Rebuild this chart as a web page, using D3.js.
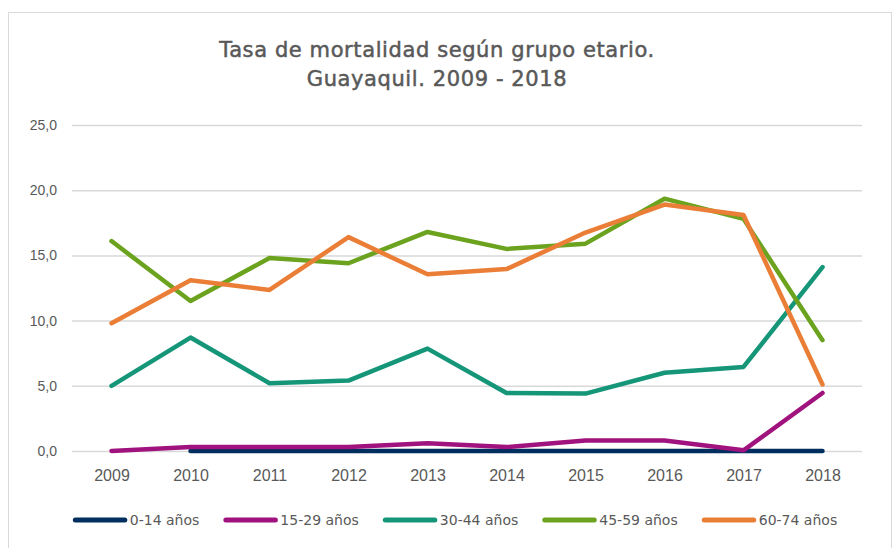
<!DOCTYPE html>
<html>
<head>
<meta charset="utf-8">
<script src="https://cdn.jsdelivr.net/npm/d3@7"></script>
<style>
  body { margin: 0; background: #fff; }
  svg { display: block; font-family: "DejaVu Sans", "Open Sans", sans-serif; }
</style>
</head>
<body>
<div id="chart"></div>
<script>
const years = ["2009", "2010", "2011", "2012", "2013", "2014", "2015", "2016", "2017", "2018"]
const groups = ["0-14 años", "15-29 años", "30-44 años", "45-59 años", "60-74 años"]
const colors = ["#002f5f", "#a0127e", "#169679", "#6ba31f", "#eb7e37"]

// tasas por grupo (null = sin dato)
const g0_14  = [null, 0.0, 0.0, 0.0, 0.0, 0.0, 0.0, 0.0, 0.0, 0.0]
const g15_29 = [0.0, 0.3, 0.3, 0.3, 0.6, 0.3, 0.8, 0.8, 0.05, 4.45]
const g30_44 = [5.0, 8.7, 5.2, 5.4, 7.85, 4.45, 4.4, 6.0, 6.45, 14.1]
const g45_59 = [16.1, 11.5, 14.8, 14.4, 16.8, 15.5, 15.9, 19.35, 17.8, 8.5]
const g60_74 = [9.8, 13.1, 12.35, 16.4, 13.55, 13.95, 16.75, 18.9, 18.1, 5.1]

const yTicks = [0, 5, 10, 15, 20, 25]

const series = [g0_14, g15_29, g30_44, g45_59, g60_74]

const width = 896
const height = 548

const svg = d3.select("#chart")
  .append("svg")
  .attr("width", width)
  .attr("height", height)

// marco del gráfico
svg.append("rect")
  .attr("x", 8.5).attr("y", 12.5)
  .attr("width", 883).attr("height", 560)
  .attr("fill", "#fff")
  .attr("stroke", "#d9d9d9")

svg.append("text")
  .attr("x", 437).attr("y", 57)
  .attr("text-anchor", "middle")
  .attr("font-size", 21).attr("letter-spacing", 0.6)
  .attr("fill", "#595959")
  .attr("stroke", "#595959").attr("stroke-width", 0.5)
  .selectAll("tspan")
  .data(["Tasa de mortalidad según grupo etario.", "Guayaquil. 2009 - 2018"])
  .join("tspan")
  .attr("x", 437)
  .attr("dy", (d, i) => i ? 29 : 0)
  .text(d => d)

const x = d3.scalePoint().domain(years).range([72, 862]).padding(0.5)
const y = d3.scaleLinear().domain([0, 25]).range([451, 125])

const fmt = d => d3.format(".1f")(d).replace(".", ",")

// grilla
const yAxis = svg.append("g")
  .attr("transform", "translate(72,0)")
  .call(d3.axisLeft(y).tickValues(yTicks).tickSize(-790).tickPadding(15).tickFormat(fmt))
yAxis.select(".domain").remove()
yAxis.selectAll("line").attr("stroke", "#d9d9d9").attr("stroke-width", 1.5)
yAxis.selectAll("text").attr("font-size", 14).attr("fill", "#595959").attr("font-family", null)

const xAxis = svg.append("g")
  .attr("transform", "translate(0,451)")
  .call(d3.axisBottom(x).tickSize(0).tickPadding(19))
xAxis.select(".domain").remove()
xAxis.selectAll("text").attr("font-size", 16).attr("fill", "#595959").attr("font-family", null)

const line = d3.line()
  .defined(d => d != null)
  .x((d, i) => x(years[i]))
  .y(d => y(d))

svg.append("g")
  .selectAll("path")
  .data(series)
  .join("path")
  .attr("d", line)
  .attr("fill", "none")
  .attr("stroke", (d, i) => colors[i])
  .attr("stroke-width", 4.5)
  .attr("stroke-linejoin", "round")
  .attr("stroke-linecap", "round")

// leyenda
const legend = svg.append("g").attr("transform", "translate(0,520)")
const items = legend.selectAll("g")
  .data(groups)
  .join("g")
items.append("line")
  .attr("x1", 2.5).attr("x2", 52)
  .attr("stroke", (d, i) => colors[i])
  .attr("stroke-width", 5)
  .attr("stroke-linecap", "round")
items.append("text")
  .attr("x", 57).attr("dy", "0.35em")
  .attr("font-size", 14).attr("fill", "#595959")
  .text(d => d)

let pos = 0
const offsets = []
items.each(function() {
  offsets.push(pos)
  pos += 57 + this.querySelector("text").getComputedTextLength() + 24
})
const total = pos - 24
const start = 455 - total / 2
items.attr("transform", (d, i) => `translate(${start + offsets[i]},0)`)
</script>
</body>
</html>
